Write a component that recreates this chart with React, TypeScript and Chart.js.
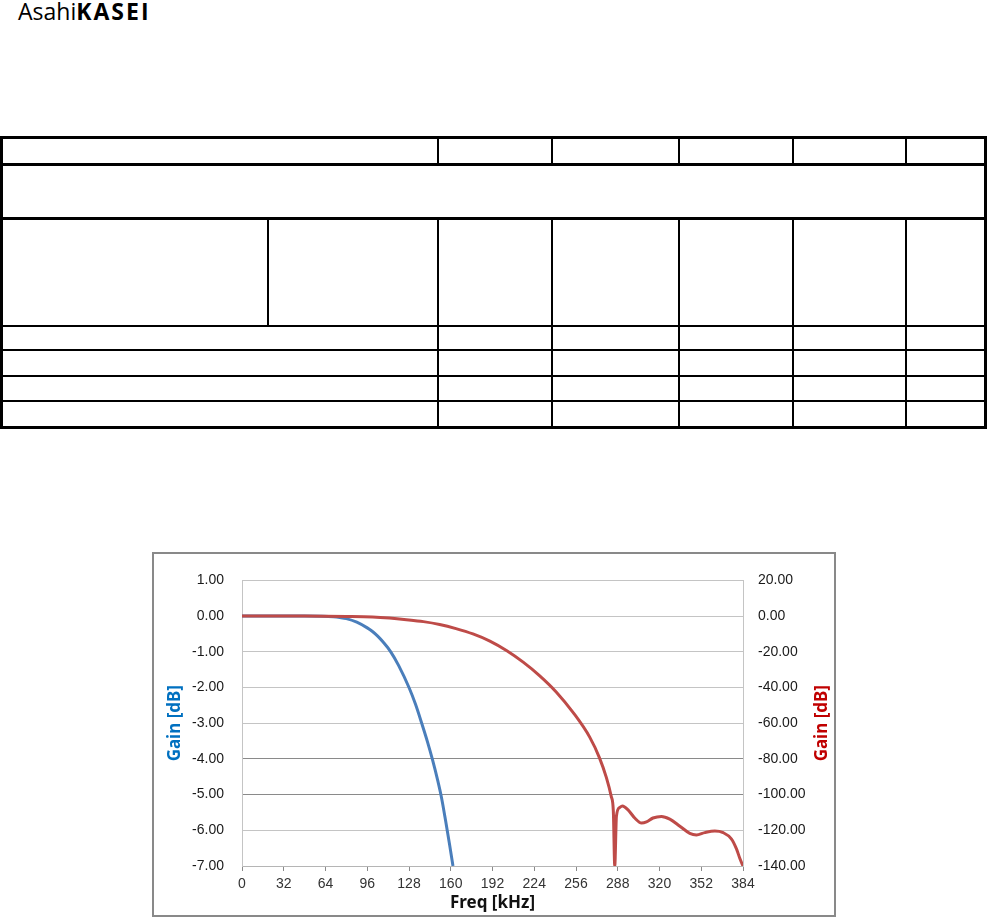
import { useEffect, useRef } from "react";
import { Chart, registerables } from "chart.js";

Chart.register(...registerables);

// Passband response, left axis [dB]
const passFreq = [
  0, 48, 62, 70, 75, 80, 88, 96, 100, 104, 108, 114, 120, 128, 133, 138, 142, 146, 150, 153, 156, 159, 161.7,
];
const passGain = [
  0, 0, -0.005, -0.02, -0.04, -0.07, -0.17, -0.33, -0.43, -0.56, -0.72, -1.0, -1.38, -2.0, -2.47, -3.03, -3.5, -4.02,
  -4.6, -5.1, -5.72, -6.38, -7.0,
];

// Full response including stopband, right axis [dB]
const stopFreq = [
  0, 48, 80, 100, 113, 126, 139, 151.5, 164, 177, 190, 203, 215.5, 228, 241, 254, 266.5, 274, 279.3, 283, 284.6,
  285.7, 287, 289.5, 291.6, 295.9, 301, 306.2, 310, 315, 321.5, 327.9, 335.6, 343.2, 348.3, 354.7, 362.4, 368.8,
  375.2, 379, 381.6, 384,
];
const stopGain = [
  0, 0, -0.2, -0.5, -1.1, -2.0, -3.1, -4.7, -7.0, -10.0, -14.0, -19.4, -25.8, -33.3, -42.6, -54.2, -67.8, -79.4, -90.5,
  -101, -109, -140, -112, -107.2, -106.4, -108.6, -113.1, -115.9, -115.3, -113.1, -112.2, -113.7, -117.7, -121.7,
  -122.6, -121.3, -120.4, -121.3, -124.9, -130.4, -135.8, -140,
];

// Axis ranges and tick steps
const freqRange = [0, 384];
const freqStep = 32;
const leftRange = [-7, 1];
const leftStep = 1;
const rightRange = [-140, 20];
const rightStep = 20;

const xTitle = "Freq [kHz]";
const leftTitle = "Gain [dB]";
const rightTitle = "Gain [dB]";

const PASS_COLOR = "#4A7EBB";
const STOP_COLOR = "#BE4B48";
const LEFT_TITLE_COLOR = "#0070C0";
const RIGHT_TITLE_COLOR = "#C00000";
const TITLE_FONT = "'Noto Sans', 'DejaVu Sans', sans-serif";
const TICK_FONT = "'Liberation Sans', Arial, sans-serif";

// Right-hand axis title, read bottom-to-top like the left one
const rightTitlePlugin = {
  id: "rightTitle",
  afterDraw(chart: any) {
    const s = chart.scales.y1;
    const area = chart.chartArea;
    const ctx = chart.ctx;
    ctx.save();
    ctx.font = `bold 17px ${TITLE_FONT}`;
    ctx.fillStyle = RIGHT_TITLE_COLOR;
    ctx.textAlign = "center";
    ctx.textBaseline = "middle";
    ctx.translate(s.right - 12, (area.top + area.bottom) / 2);
    ctx.rotate(-Math.PI / 2);
    ctx.fillText(rightTitle, 0, 0);
    ctx.restore();
  },
};

function ResponseChart() {
  const ref = useRef<HTMLCanvasElement | null>(null);

  useEffect(() => {
    if (!ref.current) return;
    const chart = new Chart(ref.current, {
      type: "line",
      data: {
        datasets: [
          {
            label: "stopband",
            data: stopFreq.map((f, i) => ({ x: f, y: stopGain[i] })),
            yAxisID: "y1",
            borderColor: STOP_COLOR,
            borderWidth: 3,
            pointRadius: 0,
            borderJoinStyle: "round",
            cubicInterpolationMode: "monotone",
          },
          {
            label: "passband",
            data: passFreq.map((f, i) => ({ x: f, y: passGain[i] })),
            yAxisID: "y",
            borderColor: PASS_COLOR,
            borderWidth: 3,
            pointRadius: 0,
            borderJoinStyle: "round",
            cubicInterpolationMode: "monotone",
          },
        ],
      },
      options: {
        animation: false,
        responsive: false,
        devicePixelRatio: 1,
        layout: { padding: { top: 18, left: 0, right: 0, bottom: 0 } },
        plugins: { legend: { display: false }, tooltip: { enabled: false } },
        scales: {
          x: {
            type: "linear",
            min: freqRange[0],
            max: freqRange[1],
            ticks: {
              stepSize: freqStep,
              padding: 5,
              color: "#333",
              font: { family: TICK_FONT, size: 14 },
              maxRotation: 0,
            },
            grid: {
              drawOnChartArea: false,
              drawTicks: true,
              tickLength: 5,
              tickColor: "#8a8a8a",
              color: "#8a8a8a",
            },
            border: { display: true, color: "#b5b5b5" },
            title: {
              display: true,
              text: xTitle,
              color: "#111",
              font: { family: TITLE_FONT, size: 17, weight: "bold" },
              padding: { top: 0, bottom: 2 },
            },
            afterFit(s: any) {
              s.height = 49;
            },
          },
          y: {
            position: "left",
            min: leftRange[0],
            max: leftRange[1],
            ticks: {
              stepSize: leftStep,
              padding: 18,
              color: "#1a1a1a",
              font: { family: TICK_FONT, size: 14 },
              callback: (v: any) => Number(v).toFixed(2),
            },
            grid: {
              drawTicks: false,
              color: (c: any) =>
                c.tick && (c.tick.value === -4 || c.tick.value === -5) ? "#8a8a8a" : "#c4c4c4",
            },
            border: { display: true, color: "#c4c4c4" },
            title: {
              display: true,
              text: leftTitle,
              color: LEFT_TITLE_COLOR,
              font: { family: TITLE_FONT, size: 17, weight: "bold" },
              padding: { top: 11, bottom: 0 },
            },
            afterFit(s: any) {
              s.width = 88;
            },
          },
          y1: {
            position: "right",
            min: rightRange[0],
            max: rightRange[1],
            ticks: {
              stepSize: rightStep,
              padding: 15,
              color: "#1a1a1a",
              font: { family: TICK_FONT, size: 14 },
              callback: (v: any) => Number(v).toFixed(2),
            },
            grid: { drawOnChartArea: false, drawTicks: false },
            border: { display: true, color: "#c4c4c4" },
            afterFit(s: any) {
              s.width = 91;
            },
          },
        },
      },
      plugins: [rightTitlePlugin],
    } as any);
    return () => chart.destroy();
  }, []);

  return <canvas ref={ref} width={680} height={361} style={{ display: "block", width: 680, height: 361 }} />;
}

// Empty spec table frame: [left, top, width, height]
const tableLines: number[][] = [
  // outer frame
  [0, 136, 987, 3],
  [0, 426, 987, 3],
  [0, 136, 3, 293],
  [984, 136, 3, 293],
  // heavy row separators
  [0, 163, 987, 3],
  [0, 217, 987, 3],
  // light row separators
  [0, 325, 987, 2],
  [0, 349, 987, 2],
  [0, 375, 987, 2],
  [0, 400, 987, 2],
  // column separators, header row
  [437, 139, 2, 24],
  [551, 139, 2, 24],
  [678, 139, 2, 24],
  [792, 139, 2, 24],
  [905, 139, 2, 24],
  // column separators, body rows
  [267, 220, 2, 105],
  [437, 220, 2, 206],
  [551, 220, 2, 206],
  [678, 220, 2, 206],
  [792, 220, 2, 206],
  [905, 220, 2, 206],
];

export default function App() {
  return (
    <div style={{ position: "absolute", left: 0, top: 0, width: 987, height: 917, background: "#fff", overflow: "hidden" }}>
      <div
        style={{
          position: "absolute",
          left: 18,
          top: 0,
          fontFamily: "'Open Sans', sans-serif",
          fontSize: 23,
          lineHeight: "23px",
          color: "#000",
          whiteSpace: "nowrap",
        }}
      >
        <span style={{ fontWeight: 400 }}>Asahi</span>
        <span style={{ fontWeight: 700, letterSpacing: 2 }}>KASEI</span>
      </div>
      {tableLines.map(([l, t, w, h], i) => (
        <div key={i} style={{ position: "absolute", left: l, top: t, width: w, height: h, background: "#000" }} />
      ))}
      <div
        style={{
          position: "absolute",
          left: 152,
          top: 552,
          width: 684,
          height: 365,
          boxSizing: "border-box",
          border: "2px solid #898989",
          background: "#fff",
        }}
      >
        <ResponseChart />
      </div>
    </div>
  );
}
